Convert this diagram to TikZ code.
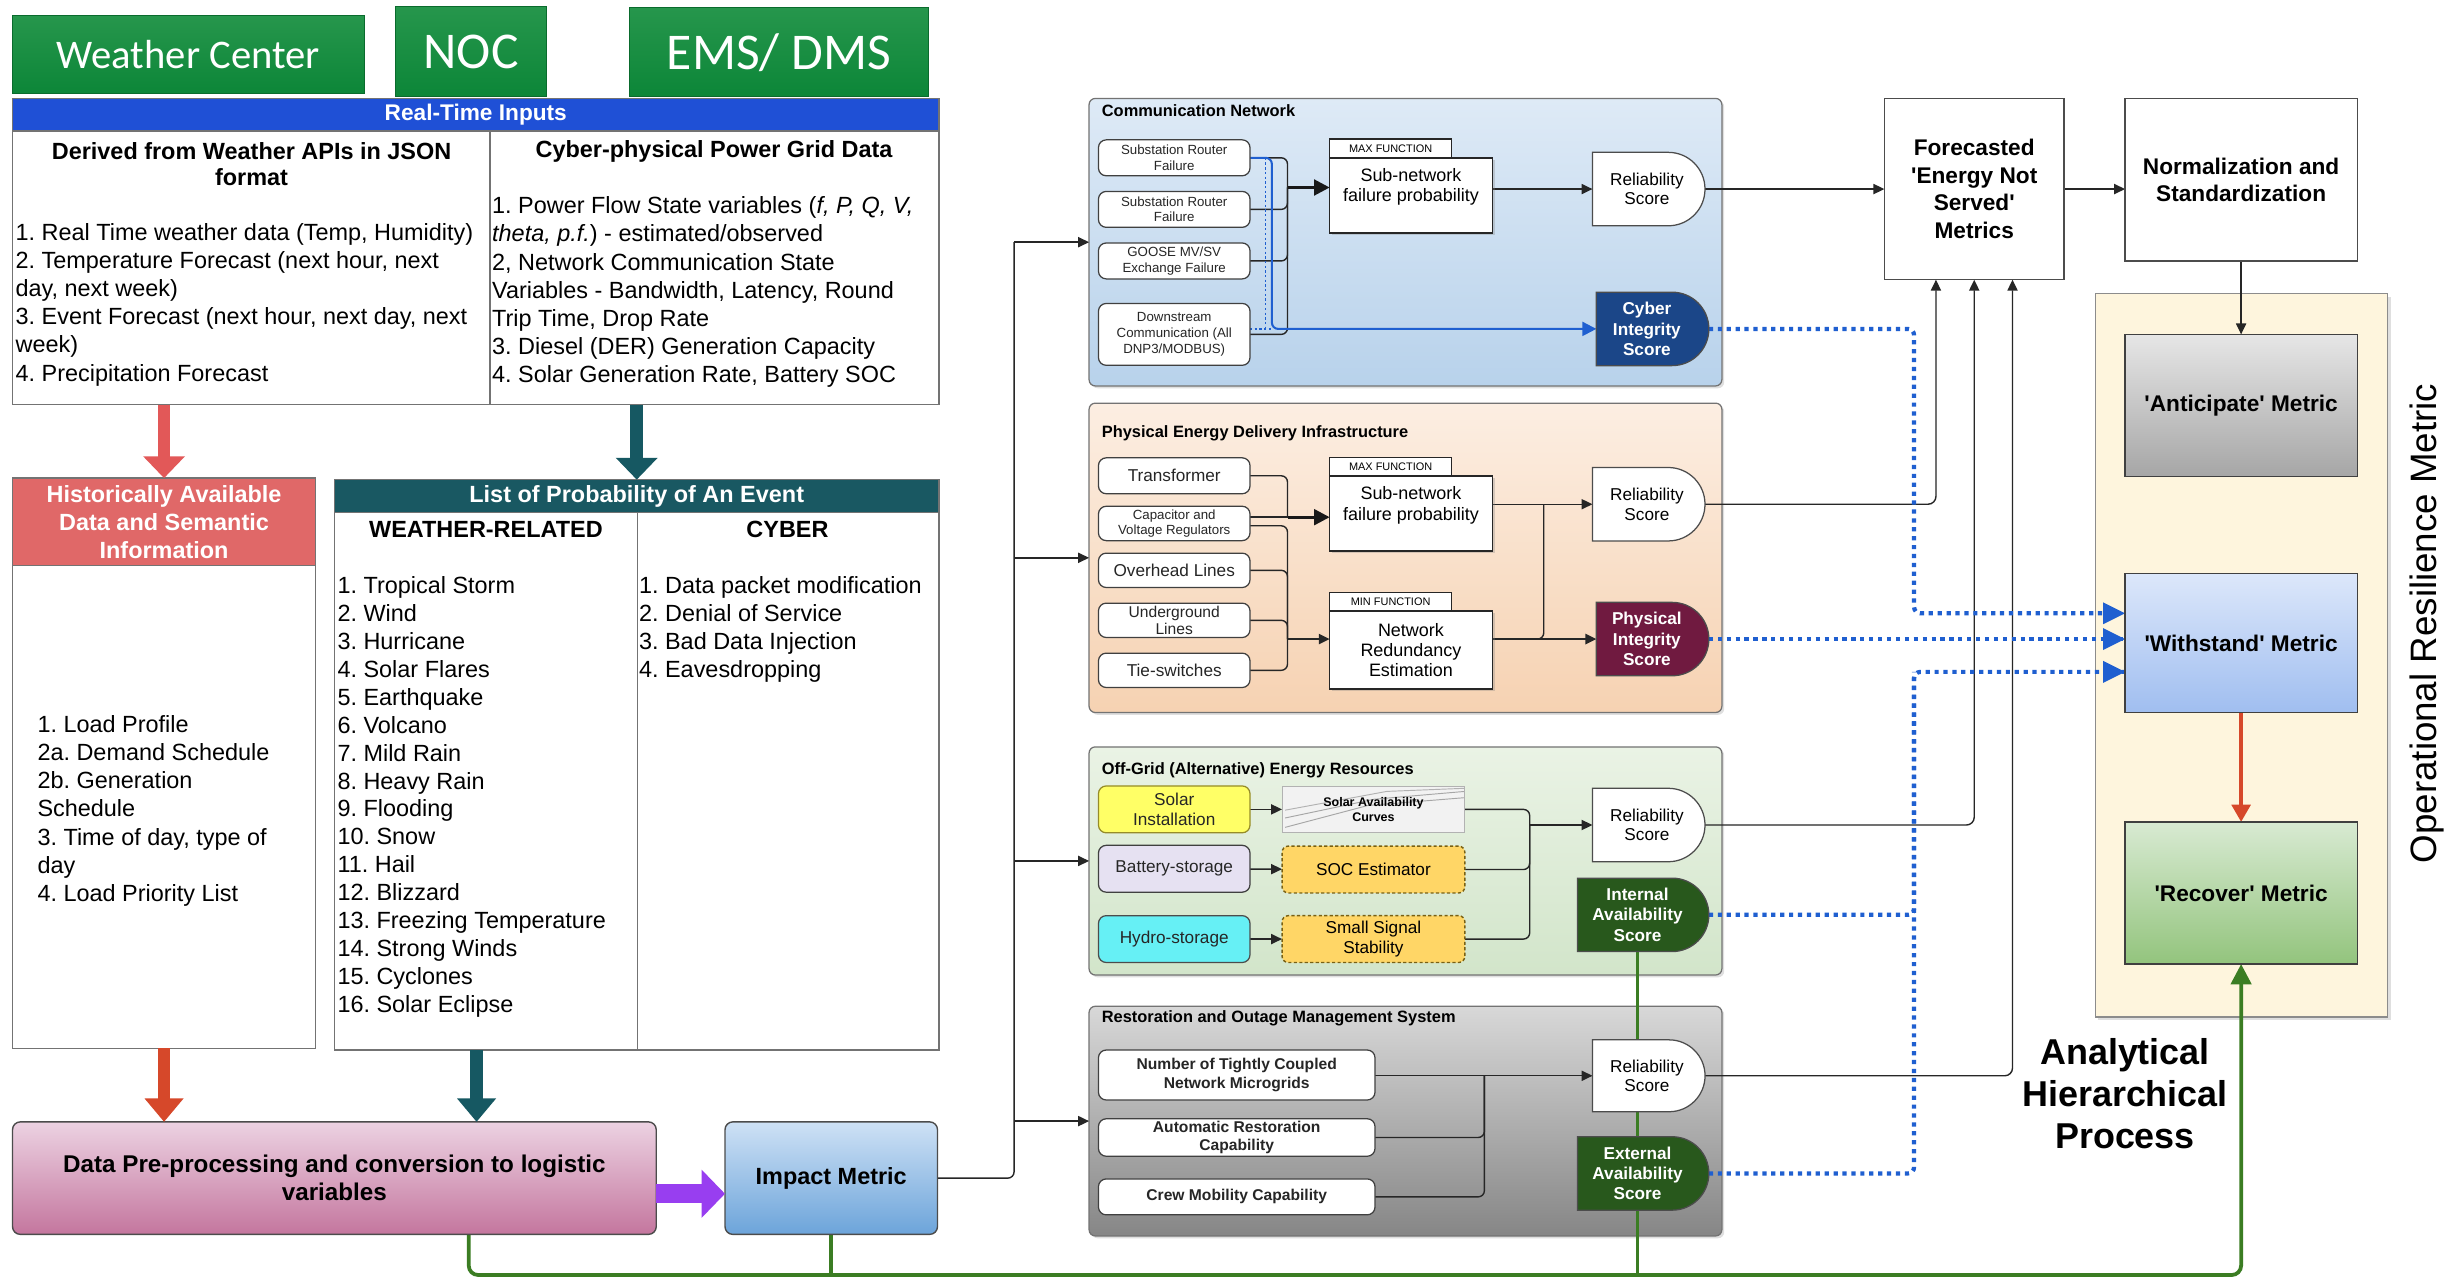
\documentclass[tikz,border=0pt]{standalone}
\usepackage{fontspec}
\setmainfont{Liberation Sans}
\newfontfamily\calibrifont{Carlito}
\usetikzlibrary{shapes.misc,arrows.meta,shadows,calc}
\newcommand{\fsz}[2]{\fontsize{#1}{#2}\selectfont}
\pgfdeclarelayer{paper}
\pgfdeclarelayer{back}
\pgfdeclarelayer{wires}
\pgfsetlayers{paper,back,wires,main}

\definecolor{hdrgreen}{RGB}{12,134,56}
\definecolor{hdrgreenlt}{RGB}{38,150,76}
\definecolor{rtblue}{RGB}{31,80,214}
\definecolor{histred}{RGB}{224,104,104}
\definecolor{probteal}{RGB}{25,88,98}
\definecolor{arrred}{RGB}{226,88,88}
\definecolor{arrorange}{RGB}{214,72,42}
\definecolor{arrteal}{RGB}{22,88,98}
\definecolor{arrpurple}{RGB}{152,62,240}
\definecolor{pptop}{RGB}{236,210,226}
\definecolor{ppbot}{RGB}{196,118,158}
\definecolor{imptop}{RGB}{206,225,245}
\definecolor{impbot}{RGB}{108,164,218}
\definecolor{cntop}{RGB}{222,234,246}
\definecolor{cnbot}{RGB}{184,210,235}
\definecolor{petop}{RGB}{252,238,226}
\definecolor{pebot}{RGB}{246,210,178}
\definecolor{ogtop}{RGB}{234,243,229}
\definecolor{ogbot}{RGB}{210,229,202}
\definecolor{rstop}{RGB}{216,216,216}
\definecolor{rsbot}{RGB}{134,134,134}
\definecolor{cyberblue}{RGB}{27,70,136}
\definecolor{physmaroon}{RGB}{112,26,64}
\definecolor{availgreen}{RGB}{40,88,28}
\definecolor{ormfill}{RGB}{254,245,221}
\definecolor{anttop}{RGB}{230,230,230}
\definecolor{antbot}{RGB}{166,166,166}
\definecolor{wittop}{RGB}{220,231,250}
\definecolor{witbot}{RGB}{160,190,240}
\definecolor{rectop}{RGB}{216,234,210}
\definecolor{recbot}{RGB}{147,196,125}
\definecolor{linegreen}{RGB}{59,125,35}
\definecolor{dotblue}{RGB}{31,95,208}
\definecolor{solarfill}{RGB}{255,255,102}
\definecolor{solardraw}{RGB}{150,140,40}
\definecolor{battfill}{RGB}{230,225,242}
\definecolor{hydrofill}{RGB}{102,240,245}
\definecolor{goldfill}{RGB}{255,214,102}
\definecolor{golddraw}{RGB}{120,96,20}

\begin{document}
\frenchspacing
\begin{tikzpicture}[x=1pt,y=-1pt,
  box/.style={inner sep=0pt,outer sep=0pt,align=center},
  topbox/.style={box,top color=hdrgreenlt,bottom color=hdrgreen,draw=hdrgreen!80!black,line width=0.6pt,text=white},
  panel/.style={box,draw=black!55,line width=1pt,fill=white},
  listtext/.style={inner sep=0pt,outer sep=0pt,anchor=north west,align=left,font=\fsz{15}{18}},
  group/.style={box,draw=black!55,rounded corners=4pt,line width=0.8pt,drop shadow={opacity=0.25,shadow xshift=1.5pt,shadow yshift=-1.5pt}},
  gtitle/.style={inner sep=0pt,anchor=west,font=\bfseries\fsz{10.5}{12}},
  inbox/.style={box,draw=black!75,fill=white,rounded corners=5pt,line width=0.8pt,text=black!85,minimum width=97pt},
  fnbox/.style={box,draw=black!85,fill=white,line width=0.9pt,minimum width=104pt,drop shadow={opacity=0.3,shadow xshift=1.5pt,shadow yshift=-1.5pt}},
  fntab/.style={box,draw=black!85,fill=white,line width=0.8pt,minimum width=78pt,minimum height=12pt,font=\fsz{7}{8}},
  dscore/.style={box,rounded rectangle,rounded rectangle west arc=none,draw=black!70,line width=0.8pt,minimum width=72pt,minimum height=47pt,font=\fsz{11}{12.5}},
  darkscore/.style={dscore,text=white,font=\bfseries\fsz{11}{13}},
  goldbox/.style={box,fill=goldfill,draw=golddraw,dash pattern=on 2pt off 1.5pt,line width=0.9pt,rounded corners=4pt,minimum width=117pt,minimum height=30pt,font=\fsz{11}{12.5}},
  metric/.style={box,draw=black!75,line width=0.8pt,minimum width=148.6pt,font=\bfseries\fsz{14.5}{17.5}},
  wire/.style={draw=black!85,line width=0.9pt,rounded corners=4pt},
  arr/.style={wire,-{Triangle[length=7pt,width=6.5pt]}},
  fatarr/.style={draw=black!90,line width=2pt,-{Triangle[length=10pt,width=10pt]}},
  bluedot/.style={draw=dotblue,line width=2.7pt,dash pattern=on 2.7pt off 3pt,rounded corners=4pt},
  greenwire/.style={draw=linegreen,line width=2.4pt,rounded corners=6pt},
]
\useasboundingbox (0,0) rectangle (1568,818.6);
\begin{pgfonlayer}{paper}
\fill[white] (0,0) rectangle (1568,818.6);
\end{pgfonlayer}

% ---------- source systems ----------
\node[topbox,minimum width=225pt,minimum height=50pt,font=\calibrifont\fsz{26}{30}] (wc) at (120.5,35) {Weather Center};
\node[topbox,minimum width=97pt,minimum height=58pt,font=\calibrifont\fsz{33}{36}] (noc) at (301.5,33) {NOC};
\node[topbox,minimum width=191pt,minimum height=57pt,font=\calibrifont\fsz{33}{36}] (ems) at (498.5,33.5) {EMS/ DMS};

% ---------- real-time inputs ----------
\node[panel,minimum width=593pt,minimum height=196pt] (rt) at (304.5,161) {};
\node[box,fill=rtblue,draw=black!55,line width=1pt,minimum width=593pt,minimum height=21pt,text=white,font=\bfseries\fsz{14.5}{16}] (rth) at (304.5,73.5) {Real-Time Inputs};
\coordinate (rdiv) at (313.5,0);
\draw[black!55,line width=1pt] (rth.south -| rdiv) -- (rt.south -| rdiv);
\node[box,font=\bfseries\fsz{15}{16.5}] (rtl) at (161,105) {Derived from Weather APIs in JSON\\format};
\node[box,font=\bfseries\fsz{15}{16.5}] (rtr) at (457,97) {Cyber-physical Power Grid Data};
\node[listtext] (rtlist) at (10,143) {1. Real Time weather data (Temp, Humidity)\\2. Temperature Forecast (next hour, next\\day, next week)\\3. Event Forecast (next hour, next day, next\\week)\\4. Precipitation Forecast};
\node[listtext] (rtrlist) at (315,126) {1. Power Flow State variables (\textit{f, P, Q, V,}\\\textit{theta, p.f.}) - estimated/observed\\2, Network Communication State\\Variables - Bandwidth, Latency, Round\\Trip Time, Drop Rate\\3. Diesel (DER) Generation Capacity\\4. Solar Generation Rate, Battery SOC};

% ---------- historical data ----------
\node[panel,minimum width=194pt,minimum height=365pt] (hist) at (105,488.5) {};
\node[box,fill=histred,draw=black!55,line width=1pt,minimum width=194pt,minimum height=56pt,text=white,font=\bfseries\fsz{15}{18}] (histh) at (105,334) {Historically Available\\Data and Semantic\\Information};
\node[listtext] (histlist) at (24,458) {1. Load Profile\\2a. Demand Schedule\\2b. Generation\\Schedule\\3. Time of day, type of\\day\\4. Load Priority List};

% ---------- event probabilities ----------
\node[panel,minimum width=387pt,minimum height=365pt] (prob) at (407.5,489.5) {};
\node[box,fill=probteal,draw=black!55,line width=1pt,minimum width=387pt,minimum height=21pt,text=white,font=\bfseries\fsz{15}{16}] (probh) at (407.5,317.5) {List of Probability of An Event};
\coordinate (pdiv) at (408,0);
\draw[black!55,line width=1pt] (probh.south -| pdiv) -- (prob.south -| pdiv);
\node[box,font=\bfseries\fsz{15}{16}] (wxhead) at (311,339) {WEATHER-RELATED};
\node[box,font=\bfseries\fsz{15}{16}] (cyhead) at (504,339) {CYBER};
\node[listtext,font=\fsz{15}{17.87}] (wxlist) at (216,369) {1. Tropical Storm\\2. Wind\\3. Hurricane\\4. Solar Flares\\5. Earthquake\\6. Volcano\\7. Mild Rain\\8. Heavy Rain\\9. Flooding\\10. Snow\\11. Hail\\12. Blizzard\\13. Freezing Temperature\\14. Strong Winds\\15. Cyclones\\16. Solar Eclipse};
\node[listtext,font=\fsz{15}{17.87}] (cylist) at (409,369) {1. Data packet modification\\2. Denial of Service\\3. Bad Data Injection\\4. Eavesdropping};

% ---------- pre-processing and impact ----------
\node[box,rounded corners=5pt,draw=black!70,line width=0.9pt,top color=pptop,bottom color=ppbot,minimum width=412pt,minimum height=72pt,font=\bfseries\fsz{15.5}{18}] (pp) at (214,754) {Data Pre-processing and conversion to logistic\\variables};
\node[box,rounded corners=5pt,draw=black!70,line width=0.9pt,top color=imptop,bottom color=impbot,minimum width=136pt,minimum height=72pt,font=\bfseries\fsz{15}{17}] (imp) at (532,754) {Impact Metric};

% block arrows
\draw[arrred,line width=8pt,-{Triangle[length=14pt,width=26pt]}] (rt.south -| hist.north) -- (hist.north);
\draw[arrteal,line width=8pt,-{Triangle[length=14pt,width=26pt]}] (rt.south -| prob.north) -- (prob.north);
\draw[arrorange,line width=8pt,-{Triangle[length=15pt,width=24pt]}] (hist.south) -- (hist.south |- pp.north);
\coordinate (tcol) at (305,0);
\draw[arrteal,line width=8pt,-{Triangle[length=15pt,width=24pt]}] (prob.south -| tcol) -- (pp.north -| tcol);
\draw[arrpurple,line width=12pt,-{Triangle[length=15pt,width=30pt]}] ([yshift=-10pt]pp.east) -- ([yshift=-10pt]imp.west);

% ---------- subsystem groups ----------
\begin{pgfonlayer}{back}
\node[group,top color=cntop,bottom color=cnbot,minimum width=405pt,minimum height=184pt] (cn) at (899.5,155) {};
\node[group,top color=petop,bottom color=pebot,minimum width=405pt,minimum height=198pt] (pe) at (899.5,357) {};
\node[group,top color=ogtop,bottom color=ogbot,minimum width=405pt,minimum height=146pt] (og) at (899.5,551) {};
\node[group,top color=rstop,bottom color=rsbot,minimum width=405pt,minimum height=147pt] (rs) at (899.5,717.5) {};
\node[box,fill=ormfill,draw=black!45,line width=0.9pt,minimum width=187pt,minimum height=463pt,drop shadow={opacity=0.25,shadow xshift=2pt,shadow yshift=-2pt}] (orm) at (1434.5,419.5) {};
\end{pgfonlayer}
\node[gtitle] (cnt) at (705,70.5) {Communication Network};
\node[gtitle] (pet) at (705,277) {Physical Energy Delivery Infrastructure};
\node[gtitle] (ogt) at (705,493) {Off-Grid (Alternative) Energy Resources};
\node[gtitle] (rst) at (705,652) {Restoration and Outage Management System};

% communication network
\node[inbox,minimum height=23pt,font=\fsz{8.5}{10}] (c1) at (751.5,101) {Substation Router\\Failure};
\node[inbox,minimum height=23pt,font=\fsz{8.5}{10}] (c2) at (751.5,134) {Substation Router\\Failure};
\node[inbox,minimum height=23pt,font=\fsz{8.5}{10}] (c3) at (751.5,167) {GOOSE MV/SV\\Exchange Failure};
\node[inbox,minimum height=39.6pt,font=\fsz{8.5}{10.5}] (c4) at (751.5,214) {Downstream\\Communication (All\\DNP3/MODBUS)};
\node[fntab] (tab1) at (890,95) {MAX FUNCTION};
\node[fnbox,minimum height=48pt] (sub1) at (903,125) {};
\node[box,font=\fsz{11.5}{13}] (sub1t) at (903,119.5) {Sub-network\\failure probability};
\node[dscore,fill=white] (rel1) at (1054,121) {Reliability\\Score};
\node[darkscore,fill=cyberblue] (cis) at (1054,210.5) {Cyber\\Integrity\\Score};

% physical infrastructure
\node[inbox,minimum height=23pt,font=\fsz{11}{12}] (p1) at (751.5,304.5) {Transformer};
\node[inbox,minimum height=22pt,font=\fsz{8.5}{9.5}] (p2) at (751.5,335) {Capacitor and\\Voltage Regulators};
\node[inbox,minimum height=22pt,font=\fsz{11}{12}] (p3) at (751.5,365) {Overhead Lines};
\node[inbox,minimum height=22pt,font=\fsz{10}{11.2}] (p4) at (751.5,397) {Underground\\Lines};
\node[inbox,minimum height=22pt,font=\fsz{11}{12}] (p5) at (751.5,429) {Tie-switches};
\node[fntab] (tab2) at (890,299) {MAX FUNCTION};
\node[fnbox,minimum height=48pt] (sub2) at (903,328.6) {};
\node[box,font=\fsz{11.5}{13}] (sub2t) at (903,323.5) {Sub-network\\failure probability};
\node[fntab] (tab3) at (890,385) {MIN FUNCTION};
\node[fnbox,minimum height=50pt,font=\fsz{11.5}{13}] (red) at (903,416) {Network\\Redundancy\\Estimation};
\node[dscore,fill=white] (rel2) at (1054,322.7) {Reliability\\Score};
\node[darkscore,fill=physmaroon] (pis) at (1054,409) {Physical\\Integrity\\Score};

% off-grid resources
\node[inbox,fill=solarfill,draw=solardraw,minimum height=30pt,font=\fsz{11}{12.5}] (solar) at (751.5,518) {Solar\\Installation};
\node[inbox,fill=battfill,minimum height=30pt,font=\fsz{11}{12.5}] (batt) at (751.5,556) {Battery-storage};
\node[inbox,fill=hydrofill,draw=black!70,minimum height=30pt,font=\fsz{11}{12.5}] (hydro) at (751.5,601) {Hydro-storage};
\node[box,fill=black!5,draw=black!30,line width=0.6pt,minimum width=117pt,minimum height=29pt,font=\bfseries\fsz{8}{9.5},
  path picture={
    \draw[black!35,line width=0.6pt] ([shift={(2pt,3pt)}]path picture bounding box.south west) -- ([shift={(-62pt,-12pt)}]path picture bounding box.north east) -- ([shift={(0pt,-7pt)}]path picture bounding box.north east);
    \draw[black!35,line width=0.6pt] ([shift={(2pt,9pt)}]path picture bounding box.south west) -- ([shift={(-58pt,-8pt)}]path picture bounding box.north east) -- ([shift={(0pt,-3pt)}]path picture bounding box.north east);
    \draw[black!30,line width=0.6pt] ([shift={(2pt,14pt)}]path picture bounding box.south west) -- ([shift={(-50pt,-3pt)}]path picture bounding box.north east) -- ([shift={(0pt,-1pt)}]path picture bounding box.north east);
  }] (sac) at (879,518) {Solar Availability\\Curves};
\node[goldbox] (soc) at (879,556.5) {SOC Estimator};
\node[goldbox] (sss) at (879,601) {Small Signal\\Stability};
\node[dscore,fill=white] (rel3) at (1054,528) {Reliability\\Score};
\node[darkscore,fill=availgreen,minimum width=84pt] (ias) at (1048,585.5) {Internal\\Availability\\Score};

% restoration and outage management
\node[inbox,minimum width=177pt,minimum height=32pt,font=\bfseries\fsz{10}{12}] (r1) at (791.5,688) {Number of Tightly Coupled\\Network Microgrids};
\node[inbox,minimum width=177pt,minimum height=24pt,font=\bfseries\fsz{10}{11.5}] (r2) at (791.5,728) {Automatic Restoration\\Capability};
\node[inbox,minimum width=177pt,minimum height=23pt,font=\bfseries\fsz{10}{11.5}] (r3) at (791.5,766) {Crew Mobility Capability};
\node[dscore,fill=white,minimum height=46pt] (rel4) at (1054,688.5) {Reliability\\Score};
\node[darkscore,fill=availgreen,minimum width=84pt] (eas) at (1048,751) {External\\Availability\\Score};

% ---------- metrics ----------
\node[box,draw=black!70,fill=white,line width=0.9pt,minimum width=115pt,minimum height=116pt,font=\bfseries\fsz{14.5}{17.7}] (fens) at (1263.5,121) {Forecasted\\\textquotesingle Energy Not\\Served\textquotesingle\\Metrics};
\node[box,draw=black!70,fill=white,line width=0.9pt,minimum width=148.6pt,minimum height=104pt,font=\bfseries\fsz{14.5}{17}] (norm) at (1434.3,115) {Normalization and\\Standardization};
\node[metric,top color=anttop,bottom color=antbot,minimum height=91pt] (ant) at (1434.3,259.5) {\textquotesingle Anticipate\textquotesingle{} Metric};
\node[metric,top color=wittop,bottom color=witbot,minimum height=89pt] (wit) at (1434.3,411.5) {\textquotesingle Withstand\textquotesingle{} Metric};
\node[metric,top color=rectop,bottom color=recbot,minimum height=91pt] (rec) at (1434.3,571.5) {\textquotesingle Recover\textquotesingle{} Metric};
\node[rotate=90,inner sep=0pt,font=\fsz{23.5}{26}] (ortitle) at (1553,399) {Operational Resilience Metric};
\node[box,font=\bfseries\fsz{23}{26.8}] (ahp) at (1360,700) {Analytical\\Hierarchical\\Process};

% ---------- connectors ----------
\begin{pgfonlayer}{wires}
% impact metric fan-out
\coordinate (fanx) at (649,0);
\draw[wire] (imp.east) -- (imp.east -| fanx) -- (fanx |- cn.west);
\foreach \g in {cn,pe,og,rs} \draw[arr] (fanx |- \g.west) -- (\g.west);

% communication network wiring
\coordinate (cbus) at (824,0);
\coordinate (s1in) at ([yshift=5pt]sub1.west);
\foreach \n in {c1,c2,c3,c4} \draw[wire] (\n.east) -- (\n.east -| cbus) -- (cbus |- s1in);
\draw[fatarr] (cbus |- s1in) -- (s1in);
\coordinate (bbus) at (814,0);
\coordinate (bdot) at (810,0);
\draw[dotblue,line width=1pt,dash pattern=on 1.5pt off 1.5pt] (bdot |- c1.east) -- (bdot |- cis.west);
\draw[dotblue,line width=1pt,dash pattern=on 1.5pt off 1.5pt] (c4.east |- cis.west) -- (bbus |- cis.west);
\draw[draw=dotblue,line width=1.3pt,rounded corners=4pt,-{Triangle[length=9pt,width=9pt]}] (c1.east) -- (c1.east -| bbus) -- (bbus |- cis.west) -- (cis.west);
\draw[arr] (sub1.east |- rel1.west) -- (rel1.west);

% physical infrastructure wiring
\coordinate (pbus) at (824,0);
\coordinate (s2in) at ([yshift=-2.4pt]sub2.west);
\coordinate (rdin) at ([yshift=7pt]red.west);
\draw[wire] (p1.east) -| (pbus |- s2in);
\draw[wire] ([yshift=4pt]p2.east) -- (pbus |- s2in);
\draw[wire] ([yshift=-1.5pt]p2.east) -| (pbus |- rdin);
\draw[wire] (p3.east) -| (pbus |- rdin);
\draw[wire] (p4.east) -| (pbus |- rdin);
\draw[wire] (p5.east) -| (pbus |- rdin);
\draw[fatarr] (pbus |- s2in) -- (s2in);
\draw[arr,line width=1.4pt] (pbus |- rdin) -- (rdin);
\draw[arr] (sub2.east |- rel2.west) -- (rel2.west);
\coordinate (pj) at (988,0);
\draw[arr,line width=1.6pt] (red.east |- pis.west) -- (pis.west);
\draw[wire] (red.east |- pis.west) -| (pj |- rel2.west);

% off-grid wiring
\draw[arr] (solar) -- (sac);
\draw[arr] (batt) -- (soc);
\draw[arr] (hydro) -- (sss);
\coordinate (obus) at (979,0);
\draw[wire] (sac.east) -| (obus |- rel3.west);
\draw[wire] (soc.east) -| (obus |- rel3.west);
\draw[wire] (sss.east) -| (obus |- rel3.west);
\draw[arr] (obus |- rel3.west) -- (rel3.west);

% restoration wiring
\draw[arr] (r1.east |- rel4.west) -- (rel4.west);
\coordinate (rbus) at (950,0);
\draw[wire] (r2.east) -| (rbus |- rel4.west);
\draw[wire] (r3.east) -| (rbus |- rel4.west);

% reliability scores into the energy-not-served metrics
\draw[arr] (rel1.east) -- (rel1.east -| fens.west);
\draw[arr,rounded corners=5pt] (rel2.east) -| ([xshift=-24.5pt]fens.south);
\draw[arr,rounded corners=5pt] (rel3.east) -| (fens.south);
\draw[arr,rounded corners=5pt] (rel4.east) -| ([xshift=24.5pt]fens.south);
\draw[arr,line width=1.3pt] (fens.east) -- (fens.east -| norm.west);
\draw[arr] (norm.south) -- (ant.north);
\draw[arrorange,line width=2.2pt,-{Triangle[length=11pt,width=12pt]}] (wit.south) -- (rec.north);

% integrity and availability scores into the withstand metric
\coordinate (bx) at (1225,0);
\coordinate (wa) at ([yshift=19pt]wit.west);
\coordinate (wc2) at ([yshift=-18.5pt]wit.west);
\draw[bluedot] (cis.east) -| (bx |- wa) -- (wa);
\draw[bluedot] (pis.east) -- (pis.east -| wit.west);
\draw[bluedot] (ias.east) -| (bx |- wc2) -- (wc2);
\draw[bluedot] (eas.east) -| (bx |- wc2);
\fill[dotblue] (wa) -- ++(-14pt,7pt) -- ++(0,-14pt) -- cycle;
\fill[dotblue] (pis.east -| wit.west) -- ++(-14pt,7pt) -- ++(0,-14pt) -- cycle;
\fill[dotblue] (wc2) -- ++(-14pt,7pt) -- ++(0,-14pt) -- cycle;

% analytical hierarchical process feedback
\coordinate (gl) at (0,816);
\coordinate (gp) at ([xshift=86pt]pp.south);
\draw[greenwire,-{Triangle[length=13pt,width=13pt]}] (gp) |- (gl -| ias.south) -| (rec.south);
\draw[greenwire] (imp.south) -- (imp.south |- gl);
\draw[greenwire] (ias.south) -- (ias.south |- gl);
\end{pgfonlayer}
\end{tikzpicture}
\end{document}
